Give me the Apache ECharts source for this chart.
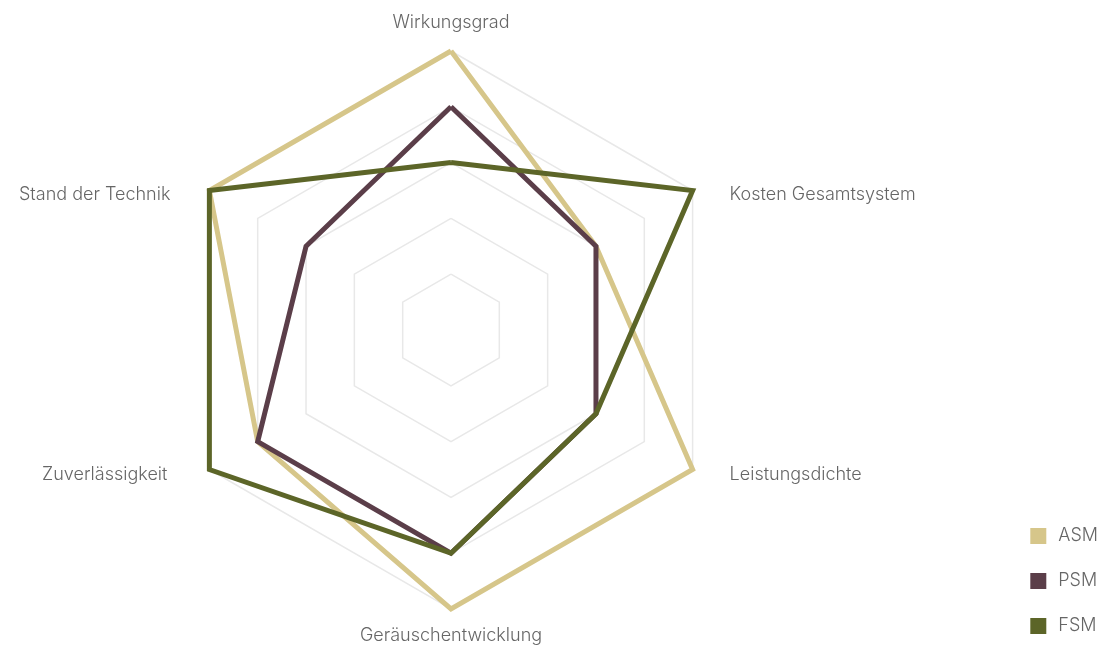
<!DOCTYPE html>
<html>
<head>
<meta charset="utf-8">
<script src="https://cdn.jsdelivr.net/npm/echarts@6/dist/echarts.min.js"></script>
<style>
html,body{margin:0;padding:0;background:#fff;}
#chart{width:1103px;height:646px;}
</style>
</head>
<body>
<div id="chart"></div>
<script>
// Indicators in ECharts drawing order (counterclockwise from top)
const indicators = ['Wirkungsgrad', 'Stand der Technik', 'Zuverlässigkeit', 'Geräuschentwicklung', 'Leistungsdichte', 'Kosten Gesamtsystem'];
const maxValue = 5;
const seriesNames = ['ASM', 'PSM', 'FSM'];
const asmValues = [5, 5, 4, 5, 5, 3];
const psmValues = [4, 3, 4, 4, 3, 3];
const fsmValues = [3, 5, 5, 4, 3, 5];
const colors = ['#d6c68a', '#5b3e49', '#5c6528'];

const labelPads = {
  l0: [0, 0, 4, 0],
  l1: [24, 26, 0, 0],
  l2: [0, 29, 5, 0],
  l3: [3, 0, 0, 0],
  l4: [0, 0, 5, 24],
  l5: [24, 0, 0, 24]
};
const rich = {};
Object.keys(labelPads).forEach(k => {
  rich[k] = { padding: labelPads[k], fontSize: 18, fontWeight: 300, color: '#666666', fontFamily: 'Inter' };
});

const chart = echarts.init(document.getElementById('chart'));
chart.setOption({
  animation: false,
  color: colors,
  legend: {
    orient: 'vertical',
    right: 0,
    bottom: 6,
    icon: 'rect',
    itemWidth: 16,
    itemHeight: 16,
    itemGap: 27,
    data: seriesNames,
    textStyle: { fontSize: 18, fontWeight: 300, color: '#666666', fontFamily: 'Inter', padding: [0, 0, 0, 7] }
  },
  radar: {
    center: [451, 330],
    radius: 279,
    startAngle: 90,
    splitNumber: 5,
    shape: 'polygon',
    indicator: indicators.map(n => ({ name: n, min: 0, max: maxValue })),
    axisName: {
      formatter: function (name) {
        return '{l' + indicators.indexOf(name) + '|' + name + '}';
      },
      rich: rich
    },
    axisLine: { show: false },
    splitArea: { show: false },
    splitLine: { lineStyle: { color: '#e8e8e8', width: 1.5 } }
  },
  series: [{
    type: 'radar',
    symbol: 'none',
    lineStyle: { width: 5, join: 'miter' },
    data: [
      { name: seriesNames[0], value: asmValues, lineStyle: { color: colors[0], width: 5, join: 'miter' } },
      { name: seriesNames[1], value: psmValues, lineStyle: { color: colors[1], width: 5, join: 'miter' } },
      { name: seriesNames[2], value: fsmValues, lineStyle: { color: colors[2], width: 5, join: 'miter' } }
    ]
  }]
});
</script>
</body>
</html>
